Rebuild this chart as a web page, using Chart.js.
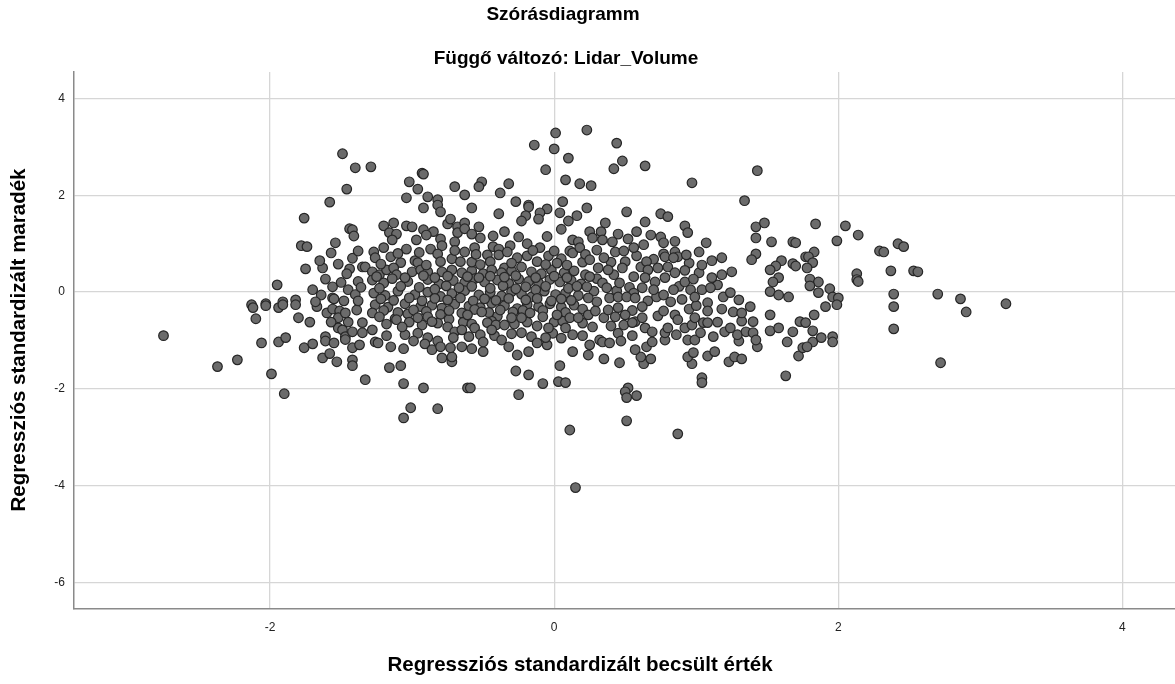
<!DOCTYPE html>
<html>
<head>
<meta charset="utf-8">
<title>Szórásdiagramm</title>
<script src="https://cdn.jsdelivr.net/npm/chart.js@4.4.1/dist/chart.umd.min.js"></script>
<style>
  html, body { margin: 0; padding: 0; background: #fff; overflow: hidden; }
  #wrap { width: 1175px; height: 684px; }
  #scatter { display: block; }
</style>
</head>
<body>
<div id="wrap"><canvas id="scatter" width="1175" height="684"></canvas></div>
<script>
// Texts
const chartTitle = 'Szórásdiagramm';
const chartSubtitle = 'Függő változó: Lidar_Volume';
const xTitle = 'Regressziós standardizált becsült érték';
const yTitle = 'Regressziós standardizált maradék';

// Tick labels
const xTicks = [-2, 0, 2, 4];
const yTicks = [-6, -4, -2, 0, 2, 4];

// [standardized predicted, standardized residual]
const points = [
  // far left
  [-2.75,-0.90],[-2.37,-1.54],[-2.23,-1.40],[-2.13,-0.26],[-2.12,-0.32],[-2.10,-0.55],[-2.06,-1.05],
  [-2.03,-0.24],[-2.03,-0.28],[-1.99,-1.69],[-1.95,0.15],[-1.94,-0.32],[-1.94,-1.03],[-1.91,-0.20],
  [-1.91,-0.26],[-1.90,-2.10],[-1.89,-0.94],[-1.82,-0.16],[-1.82,-0.26],[-1.80,-0.53],
  // left upper
  [-1.49,2.86],[-1.40,2.57],[-1.46,2.13],[-1.58,1.86],[-1.76,1.53],[-1.44,1.31],[-1.42,1.29],
  [-1.41,1.16],[-1.54,1.02],[-1.78,0.96],[-1.74,0.94],[-1.57,0.81],[-1.35,0.52],[-1.75,0.48],
  [-1.63,0.50],[-1.44,0.48],[-1.46,0.38],[-1.61,0.27],[-1.56,0.11],[-1.64,-0.06],[-1.56,-0.12],
  [-1.55,-0.14],[-1.48,-0.18],
  // left lower
  [-1.76,-1.15],[-1.70,-1.07],[-1.61,-0.92],[-1.61,-1.01],[-1.63,-1.36],[-1.58,-1.27],[-1.53,-1.44],
  [-1.42,-1.15],[-1.42,-1.40],[-1.42,-1.52],[-1.33,-1.81],[-1.67,-0.30],[-1.60,-0.43],[-1.56,-0.35],
  [-1.51,-0.39],[-1.52,-0.53],[-1.47,-0.43],[-1.39,-0.37],[-1.52,-0.74],[-1.49,-0.78],[-1.47,-0.92],
  [-1.42,-0.82],[-1.35,-0.63],[-1.35,-0.84],[-1.37,-1.09],
  // left filler
  [-1.70,0.05],[-1.68,-0.20],[-1.45,0.05],[-1.40,-0.05],[-1.50,0.20],[-1.38,0.22],[-1.72,-0.62],
  [-1.57,-0.62],[-1.45,-0.62],[-1.38,-0.18],[-1.36,0.10],[-1.65,0.65],[-1.52,0.58],[-1.42,0.70],
  [-1.38,0.85],[-1.47,-0.98],[-1.55,-1.05],
  // centre upper
  [0.01,3.29],[0.23,3.35],[-0.14,3.04],[0.00,2.96],[0.10,2.77],[-1.29,2.59],[-0.06,2.53],
  [-0.93,2.46],[-0.92,2.44],[-1.02,2.28],[-0.96,2.13],[-0.51,2.28],[-0.53,2.18],[-0.70,2.18],
  [-0.32,2.24],[0.08,2.32],[0.18,2.24],[-1.04,1.95],[-0.89,1.97],[-0.82,1.91],[-0.82,1.80],
  [-0.63,2.01],[-0.38,2.05],[-0.92,1.74],[-0.80,1.66],[-0.58,1.74],[-0.27,1.87],[-0.18,1.80],
  [-0.18,1.76],[0.06,1.87],[-0.39,1.62],[-0.05,1.72],[-0.10,1.64],[0.04,1.64],[-0.20,1.58],
  [-0.23,1.47],[-0.11,1.51],[0.16,1.58],[0.10,1.47],[-1.20,1.37],[-1.13,1.43],[-1.16,1.23],
  [-1.11,1.20],[-1.14,1.08],[-1.04,1.37],[-1.00,1.35],[-0.92,1.29],[-0.85,1.25],[-0.75,1.41],
  [-0.73,1.51],[-0.68,1.35],[-0.68,1.23],[-0.63,1.43],[-0.63,1.31],[-0.53,1.35],[-0.97,1.08],
  [-0.80,1.10],[-0.79,0.96],[-0.70,1.04],[-0.52,1.12],[-0.43,1.16],[-0.43,0.94],[-0.39,0.89],
  [-0.25,1.14],[-0.31,0.96],[-0.19,1.00],[-0.10,0.92],[-0.04,0.75],[0.13,1.08],[0.17,1.04],
  [-1.27,0.83],[-1.26,0.71],[-1.04,0.89],[-1.15,0.73],[-1.33,0.52],[-1.08,0.61],[-0.87,0.89],
  [-0.82,0.79],[-0.80,0.63],[-0.63,0.83],[-0.72,0.69],[-0.66,0.63],[-0.56,0.92],[-0.47,0.77],
  [-0.45,0.63],[-0.39,0.77],[-0.35,0.50],[-0.26,0.71],[-0.23,0.52],[-0.19,0.75],[0.05,0.69],
  [0.11,0.85],[0.13,0.81],[0.18,0.92],[-0.98,0.65],[-0.96,0.61],[-1.28,0.42],[-1.23,0.36],
  [-1.18,0.46],[-1.13,0.50],[-1.11,0.36],[-1.00,0.42],[-0.94,0.46],[-0.89,0.42],
  // centre core rows
  [-0.79,0.42],[-0.72,0.46],[-0.65,0.40],[-0.58,0.44],[-0.50,0.38],[-0.44,0.46],[-0.37,0.40],
  [-0.30,0.44],[-0.16,0.42],[-0.09,0.38],[-0.02,0.46],[0.07,0.40],[0.14,0.44],
  [-1.28,0.25],[-1.20,0.19],[-1.14,0.28],[-1.03,0.22],[-0.89,0.26],[-0.81,0.17],[-0.71,0.24],
  [-0.63,0.20],[-0.56,0.28],[-0.49,0.21],[-0.40,0.25],[-0.32,0.18],[-0.25,0.27],[-0.18,0.22],
  [-0.11,0.19],[-0.03,0.26],[0.04,0.21],[0.12,0.24],[0.19,0.17],
  [-1.27,-0.02],[-1.19,-0.07],[-1.10,0.02],[-0.98,-0.05],[-0.89,0.00],[-0.80,-0.09],[-0.72,-0.03],
  [-0.63,0.03],[-0.53,-0.06],[-0.45,-0.01],[-0.37,-0.08],[-0.30,0.01],[-0.23,-0.04],[-0.16,-0.10],
  [-0.07,0.02],[0.01,-0.05],[0.08,-0.02],[0.17,-0.07],
  [-1.26,-0.26],[-1.17,-0.31],[-1.05,-0.24],[-0.94,-0.30],[-0.86,-0.27],[-0.79,-0.33],[-0.70,-0.25],
  [-0.60,-0.29],[-0.52,-0.32],[-0.44,-0.23],[-0.35,-0.28],[-0.26,-0.34],[-0.19,-0.26],[-0.11,-0.30],
  [-0.03,-0.24],[0.05,-0.31],[0.14,-0.27],
  [-1.12,-0.55],[-1.03,-0.45],[-0.80,-0.46],[-0.74,-0.56],[-0.40,-0.50],[-0.44,-0.60],
  // centre core filler
  [-1.22,0.58],[-0.90,0.56],[-0.58,0.62],[-0.52,0.57],[-0.30,0.60],[-0.12,0.63],[-0.06,0.57],
  [0.02,0.60],[0.09,0.56],[0.20,0.62],
  [-1.23,0.08],[-1.08,0.12],[-0.95,0.10],[-0.84,0.06],[-0.76,0.13],[-0.67,0.09],[-0.58,0.12],
  [-0.45,0.08],[-0.36,0.13],[-0.27,0.07],[-0.20,0.11],[-0.13,0.05],[-0.06,0.12],[0.10,0.08],
  [0.16,0.12],[0.28,0.02],[0.44,0.03],[0.53,0.10],[0.56,-0.02],[0.88,0.12],[1.15,0.15],
  [-1.22,-0.14],[-1.13,-0.17],[-1.02,-0.12],[-0.93,-0.18],[-0.84,-0.13],[-0.75,-0.16],[-0.66,-0.12],
  [-0.57,-0.18],[-0.49,-0.14],[-0.41,-0.17],[-0.32,-0.13],[-0.20,-0.16],[-0.12,-0.13],[-0.02,-0.18],
  [0.05,-0.14],[0.12,-0.17],[0.30,-0.20],[0.66,-0.18],[0.72,-0.10],[0.82,-0.20],[0.90,-0.15],
  [1.08,-0.22],[1.38,-0.30],
  [-1.20,-0.38],[-1.10,-0.42],[-0.99,-0.37],[-0.90,-0.40],[-0.74,-0.38],[-0.56,-0.36],[-0.46,-0.42],
  [-0.38,-0.37],[-0.29,-0.41],[-0.22,-0.38],[-0.08,-0.38],[0.08,-0.42],[0.20,-0.35],[0.55,-0.38],
  [0.62,-0.30],[0.95,-0.35],[1.00,-0.28],
  [-1.18,-0.66],[-1.02,-0.62],[-0.93,-0.68],[-0.82,-0.64],[-0.64,-0.62],[-0.58,-0.66],[-0.47,-0.63],
  [-0.41,-0.68],[-0.28,-0.66],[-0.19,-0.62],[-0.12,-0.70],[0.00,-0.62],[0.06,-0.60],[0.20,-0.64],
  [0.40,-0.70],[1.15,-0.62],[1.32,-0.60],
  [-1.18,-0.90],[-1.05,-0.88],[-0.96,-0.85],[-0.60,-0.92],[-0.42,-0.90],[-0.30,-0.86],[-0.16,-0.92],
  [-0.01,-0.85],[0.05,-0.95],[0.20,-0.90],[0.45,-0.85],[0.55,-0.90],[0.86,-0.88],[1.12,-0.92],
  [-1.20,0.92],[-1.10,0.80],[-0.95,0.82],[-0.70,0.86],[-0.55,0.78],[-0.33,0.83],[-0.15,0.86],
  [0.00,0.85],[0.22,0.78],[0.40,0.62],[0.58,0.75],[0.70,0.68],[0.95,0.60],
  [-1.25,0.32],[-1.05,0.30],[-0.92,0.34],[-0.84,0.30],[-0.75,0.33],[-0.61,0.32],[-0.53,0.30],
  [-0.45,0.33],[-0.35,0.31],[-0.27,0.34],[-0.13,0.30],[0.00,0.33],[0.09,0.30],[0.30,0.28],
  [0.42,0.36],[0.92,0.45],[1.02,0.40],
  [-0.90,1.18],[-0.58,1.20],[-0.35,1.25],[-0.05,1.15],[0.05,1.30],[0.45,1.20],[0.52,1.10],[0.85,1.05],
  // centre lower
  [-1.06,-1.89],[-0.92,-1.98],[-1.01,-2.39],[-1.06,-2.60],[-0.82,-2.41],[-0.61,-1.98],[-0.59,-1.98],
  [-0.27,-1.63],[-0.18,-1.71],[-0.25,-2.12],[-0.08,-1.89],[0.04,-1.52],[0.03,-1.85],[0.08,-1.87],
  [0.11,-2.85],[0.15,-4.04],[-1.16,-1.56],[-1.08,-1.52],[-1.15,-1.13],[-1.06,-1.17],[-1.28,-0.78],
  [-1.26,-1.03],[-1.24,-1.05],[-1.11,-0.57],[-1.07,-0.72],[-1.28,-0.43],[-1.23,-0.51],[-0.99,-1.01],
  [-0.89,-0.94],[-0.91,-1.07],[-0.86,-1.19],[-0.82,-1.01],[-0.80,-1.13],[-0.79,-1.36],[-0.72,-1.44],
  [-0.72,-1.34],[-0.73,-1.15],[-0.65,-1.13],[-0.58,-1.17],[-0.50,-1.23],[-0.96,-0.53],[-0.89,-0.51],
  [-0.86,-0.61],[-0.75,-0.72],[-0.70,-0.82],[-0.71,-0.94],[-0.65,-0.78],[-0.56,-0.74],[-0.52,-0.88],
  [-0.50,-1.03],[-0.65,-0.43],[-0.61,-0.47],[-0.51,-0.41],[-0.44,-0.78],[-0.37,-0.99],[-0.32,-1.13],
  [-0.26,-1.30],[-0.23,-0.84],[-0.18,-1.23],[-0.12,-1.05],[-0.05,-1.09],[-0.06,-0.94],[-0.35,-0.68],
  [-0.30,-0.53],[-0.23,-0.53],[-0.17,-0.43],[-0.08,-0.51],[-0.04,-0.74],[0.02,-0.47],[0.08,-0.74],
  [0.13,-0.88],[0.13,-1.23],[0.11,-0.53],[0.17,-0.53],
  // right of centre, upper
  [0.44,3.08],[0.48,2.71],[0.42,2.55],[0.64,2.61],[0.26,2.20],[0.97,2.26],[1.43,2.51],[1.34,1.89],
  [0.23,1.74],[0.51,1.66],[0.75,1.62],[0.80,1.56],[0.36,1.43],[0.64,1.45],[0.92,1.37],[0.94,1.23],
  [0.58,1.25],[0.68,1.18],[0.75,1.14],[0.77,1.02],[0.25,1.25],[0.27,1.12],[0.33,1.25],[0.34,1.08],
  [0.41,1.04],[0.43,0.83],[0.30,0.87],[0.35,0.71],[0.25,0.67],[0.49,0.85],[0.56,0.92],[0.63,0.98],
  [0.77,0.79],[0.78,0.73],[0.85,0.83],[0.87,0.73],[0.93,0.77],[1.07,1.02],[1.02,0.83],[1.04,0.56],
  [1.11,0.65],[1.18,0.71],[1.42,1.35],[1.48,1.43],[1.42,1.12],[1.53,1.04],[1.68,1.04],[1.70,1.02],
  [1.42,0.79],[1.39,0.67],[1.60,0.65],[1.56,0.54],[1.52,0.46],[1.68,0.59],[1.70,0.54],[1.77,0.73],
  [1.58,0.30],[1.54,0.21],[1.52,0.01],[1.58,-0.06],[1.65,-0.10],[0.50,0.63],[0.48,0.50],[0.61,0.52],
  [0.65,0.63],[0.66,0.46],[0.73,0.50],[0.80,0.52],[0.84,0.71],[0.85,0.40],[0.31,0.50],[0.38,0.46],
  [0.22,0.36],[0.25,0.32],[0.23,0.11],[0.34,0.19],[0.37,0.09],[0.46,0.19],[0.56,0.32],[0.64,0.30],
  [0.71,0.21],[0.78,0.30],[0.62,0.09],[0.70,0.05],[0.77,-0.06],[0.84,0.05],[0.92,0.21],[0.98,0.27],
  [1.11,0.30],[1.18,0.36],[1.25,0.42],[1.04,0.05],[1.10,0.09],[0.96,0.05],[0.99,-0.10],[1.19,-0.10],
  [1.24,-0.01],[1.30,-0.16],[0.24,-0.12],[0.39,-0.12],[0.45,-0.10],[0.51,-0.10],[0.57,-0.12],
  // right of centre, lower
  [0.24,-1.30],[0.35,-1.38],[0.46,-1.46],[0.52,-1.98],[0.50,-2.06],[0.51,-2.18],[0.58,-2.14],
  [0.51,-2.66],[0.87,-2.93],[1.04,-1.77],[1.04,-1.87],[1.63,-1.73],[1.72,-1.32],[0.97,-1.48],
  [0.94,-1.34],[0.98,-1.25],[1.08,-1.32],[1.13,-1.23],[1.23,-1.44],[1.27,-1.34],[1.32,-1.38],
  [0.63,-1.48],[0.68,-1.38],[0.61,-1.34],[0.57,-1.19],[0.65,-1.13],[0.69,-1.03],[0.25,-1.09],
  [0.32,-0.99],[0.34,-1.03],[0.39,-1.05],[0.47,-1.01],[0.78,-0.99],[0.78,-0.84],[0.80,-0.74],
  [0.94,-0.99],[0.99,-0.99],[1.03,-0.84],[1.20,-0.82],[1.24,-0.74],[1.30,-1.01],[1.29,-0.88],
  [1.35,-0.82],[1.40,-0.84],[1.43,-1.13],[1.42,-0.99],[1.52,-0.80],[1.58,-0.74],[1.64,-1.03],
  [1.68,-0.82],[1.75,-1.15],[1.40,-0.61],[1.52,-0.47],[1.73,-0.61],[1.08,-0.39],[1.18,-0.35],
  [1.26,-0.41],[1.32,-0.43],[0.73,-0.49],[0.77,-0.39],[0.85,-0.47],[0.87,-0.57],[0.57,-0.61],
  [0.62,-0.53],[0.64,-0.74],[0.69,-0.82],[0.43,-0.51],[0.49,-0.68],[0.50,-0.47],[0.55,-0.63],
  [0.24,-0.47],[0.27,-0.72],[0.29,-0.39],[0.35,-0.53],[0.38,-0.37],[0.45,-0.32],[0.92,-0.74],
  [0.97,-0.68],[0.99,-0.53],[1.05,-0.63],[1.08,-0.63],
  // far right
  [1.84,1.41],[2.05,1.37],[2.14,1.18],[1.99,1.06],[1.83,0.83],[1.79,0.73],[1.82,0.61],[1.78,0.50],
  [2.29,0.85],[2.32,0.83],[2.42,1.00],[2.46,0.94],[2.37,0.44],[2.53,0.44],[2.56,0.42],[2.13,0.38],
  [2.13,0.26],[2.14,0.22],[1.80,0.27],[1.86,0.21],[1.80,0.13],[1.94,0.07],[1.96,-0.10],[1.86,-0.01],
  [2.00,-0.12],[2.39,-0.04],[2.70,-0.04],[2.86,-0.14],[3.18,-0.24],[1.83,-0.47],[1.91,-0.30],
  [1.99,-0.26],[1.77,-0.63],[1.82,-0.80],[1.82,-1.03],[1.78,-1.13],[1.88,-0.94],[1.96,-0.92],
  [1.96,-1.03],[2.39,-0.30],[2.39,-0.76],[2.72,-1.46],[2.90,-0.41]
];

const sansFont = '"Liberation Sans", Arial, sans-serif';

// Titles drawn at SPSS-like positions
const spssText = {
  id: 'spssText',
  afterDraw(chart) {
    const ctx = chart.ctx;
    ctx.save();
    ctx.fillStyle = '#000';
    ctx.textAlign = 'center';
    ctx.textBaseline = 'middle';
    ctx.font = 'bold 19px ' + sansFont;
    ctx.fillText(chartTitle, 563, 15);
    ctx.fillText(chartSubtitle, 566, 59);
    ctx.font = 'bold 20.5px ' + sansFont;
    ctx.fillText(xTitle, 580, 665);
    ctx.translate(19, 340);
    ctx.rotate(-Math.PI / 2);
    ctx.fillText(yTitle, 0, 0);
    ctx.restore();
  }
};

new Chart(document.getElementById('scatter'), {
  type: 'scatter',
  data: {
    datasets: [{
      data: points.map(p => ({ x: p[0], y: p[1] })),
      backgroundColor: '#6b6b6b',
      borderColor: '#262626',
      borderWidth: 1.2,
      pointRadius: 4.8,
      pointHoverRadius: 4.8
    }]
  },
  options: {
    responsive: false,
    devicePixelRatio: 1,
    animation: false,
    // no auto padding for the point radius, plot runs to the right edge like SPSS
    layout: { autoPadding: false, padding: { top: 72, left: 0, right: 0, bottom: 0 } },
    plugins: { legend: { display: false }, tooltip: { enabled: false }, title: { display: false } },
    scales: {
      x: {
        type: 'linear',
        min: -3.38,
        max: 4.37,
        afterBuildTicks: s => { s.ticks = xTicks.map(v => ({ value: v })); },
        afterFit: s => { s.height = 75; s.paddingLeft = 0; s.paddingRight = 0; },
        grid: { color: '#d6d6d6', lineWidth: 1.3, drawTicks: false },
        border: { color: '#8a8a8a', width: 1.5 },
        ticks: { color: '#222', font: { family: sansFont, size: 12 }, padding: 11, maxRotation: 0 }
      },
      y: {
        type: 'linear',
        min: -6.55,
        max: 4.55,
        afterBuildTicks: s => { s.ticks = yTicks.map(v => ({ value: v })); },
        afterFit: s => { s.width = 74; s.paddingTop = 0; s.paddingBottom = 0; },
        grid: { color: '#d6d6d6', lineWidth: 1.3, drawTicks: false },
        border: { color: '#8a8a8a', width: 1.5 },
        ticks: { color: '#222', font: { family: sansFont, size: 12 }, padding: 9 }
      }
    }
  },
  plugins: [spssText]
});
</script>
</body>
</html>
